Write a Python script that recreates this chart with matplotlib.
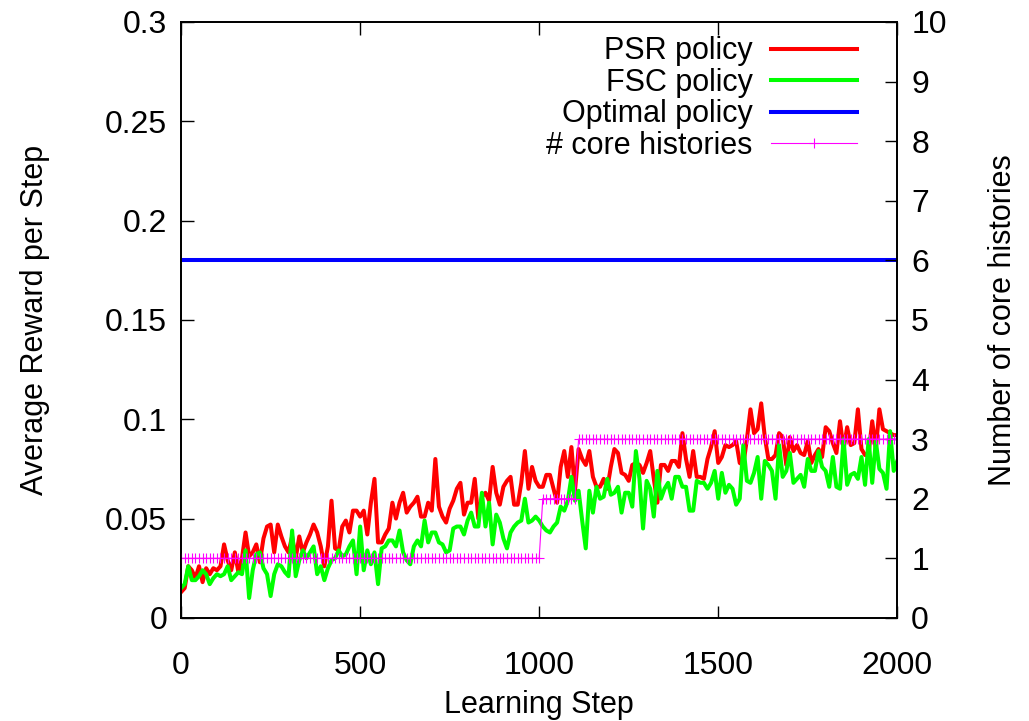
import numpy as np
import matplotlib
matplotlib.use("Agg")
import matplotlib.pyplot as plt

plt.rcParams['font.family'] = ['Liberation Sans', 'DejaVu Sans']

steps = list(range(0, 2001, 10))

psr_reward = [
    0.013, 0.015, 0.026, 0.024, 0.020, 0.026, 0.018, 0.025, 0.022, 0.025,
    0.024, 0.026, 0.037, 0.029, 0.024, 0.033, 0.023, 0.030, 0.043, 0.031,
    0.033, 0.037, 0.028, 0.040, 0.046, 0.047, 0.033, 0.047, 0.041, 0.036,
    0.033, 0.041, 0.030, 0.041, 0.033, 0.038, 0.042, 0.047, 0.043, 0.036,
    0.026, 0.036, 0.059, 0.035, 0.034, 0.046, 0.049, 0.043, 0.054, 0.054,
    0.051, 0.054, 0.042, 0.058, 0.070, 0.038, 0.038, 0.042, 0.045, 0.058,
    0.050, 0.058, 0.063, 0.053, 0.056, 0.058, 0.061, 0.051, 0.051, 0.058,
    0.054, 0.080, 0.056, 0.051, 0.048, 0.055, 0.059, 0.065, 0.068, 0.052,
    0.058, 0.058, 0.070, 0.050, 0.061, 0.063, 0.059, 0.076, 0.063, 0.057,
    0.066, 0.069, 0.071, 0.057, 0.057, 0.068, 0.084, 0.065, 0.076, 0.069,
    0.066, 0.066, 0.072, 0.072, 0.065, 0.058, 0.076, 0.084, 0.071, 0.086,
    0.064, 0.085, 0.080, 0.077, 0.084, 0.071, 0.066, 0.066, 0.070, 0.065,
    0.076, 0.085, 0.083, 0.073, 0.072, 0.069, 0.077, 0.078, 0.077, 0.073,
    0.078, 0.084, 0.070, 0.058, 0.077, 0.077, 0.074, 0.079, 0.079, 0.076,
    0.093, 0.080, 0.071, 0.084, 0.071, 0.071, 0.070, 0.080, 0.086, 0.094,
    0.078, 0.081, 0.087, 0.086, 0.087, 0.089, 0.078, 0.077, 0.090, 0.105,
    0.093, 0.095, 0.108, 0.091, 0.080, 0.080, 0.082, 0.093, 0.091, 0.077,
    0.091, 0.084, 0.087, 0.083, 0.082, 0.089, 0.078, 0.082, 0.085, 0.081,
    0.096, 0.094, 0.088, 0.083, 0.099, 0.085, 0.096, 0.087, 0.088, 0.105,
    0.085, 0.082, 0.083, 0.099, 0.085, 0.105, 0.095, 0.094, 0.093, 0.092, 0.092,
]

fsc_reward = [
    0.015, 0.017, 0.026, 0.019, 0.019, 0.021, 0.024, 0.022, 0.017, 0.020,
    0.022, 0.021, 0.022, 0.026, 0.019, 0.021, 0.023, 0.022, 0.034, 0.010,
    0.024, 0.032, 0.033, 0.025, 0.022, 0.011, 0.022, 0.027, 0.026, 0.023,
    0.021, 0.044, 0.021, 0.029, 0.034, 0.030, 0.033, 0.036, 0.022, 0.026,
    0.019, 0.025, 0.029, 0.030, 0.034, 0.031, 0.032, 0.036, 0.039, 0.022,
    0.046, 0.024, 0.034, 0.027, 0.033, 0.017, 0.035, 0.036, 0.039, 0.039,
    0.036, 0.044, 0.033, 0.029, 0.027, 0.036, 0.039, 0.036, 0.049, 0.038,
    0.043, 0.043, 0.038, 0.037, 0.033, 0.034, 0.045, 0.046, 0.046, 0.042,
    0.049, 0.053, 0.046, 0.046, 0.063, 0.046, 0.058, 0.037, 0.052, 0.048,
    0.040, 0.035, 0.043, 0.046, 0.048, 0.049, 0.060, 0.048, 0.049, 0.051,
    0.049, 0.046, 0.044, 0.043, 0.046, 0.048, 0.056, 0.054, 0.059, 0.071,
    0.059, 0.064, 0.049, 0.035, 0.064, 0.053, 0.066, 0.060, 0.061, 0.070,
    0.062, 0.063, 0.066, 0.053, 0.063, 0.063, 0.056, 0.084, 0.070, 0.045,
    0.069, 0.065, 0.051, 0.074, 0.060, 0.065, 0.068, 0.060, 0.071, 0.071,
    0.066, 0.066, 0.054, 0.054, 0.069, 0.068, 0.068, 0.065, 0.068, 0.074,
    0.060, 0.073, 0.063, 0.067, 0.065, 0.057, 0.060, 0.087, 0.069, 0.068,
    0.073, 0.081, 0.060, 0.079, 0.077, 0.074, 0.060, 0.087, 0.071, 0.074,
    0.083, 0.068, 0.070, 0.072, 0.066, 0.080, 0.074, 0.074, 0.084, 0.076,
    0.074, 0.066, 0.081, 0.066, 0.065, 0.090, 0.067, 0.072, 0.073, 0.070,
    0.081, 0.067, 0.090, 0.068, 0.089, 0.075, 0.073, 0.065, 0.094, 0.074, 0.079,
]

optimal_reward = 0.18

# number of core histories: 1 up to step 1000, 2 until 1100, then 3
core_histories = [1] * 101 + [2] * 10 + [3] * 90

fig = plt.figure(figsize=(10.29, 7.21), dpi=100)
ax = fig.add_axes([0.176, 0.143, 0.696, 0.8265])
ax2 = ax.twinx()

ax.plot(steps, psr_reward, color='#ff0000', lw=2.9, label='PSR policy')
ax.plot(steps, fsc_reward, color='#00ff00', lw=2.9, label='FSC policy')
ax.axhline(optimal_reward, color='#0000ff', lw=2.9, label='Optimal policy')
ax2.plot(steps, core_histories, color='#ff00ff', lw=0.8, marker='+',
         ms=7, mew=0.8, label='# core histories')

ax.set_xlim(0, 2000)
ax.set_ylim(0, 0.3)
ax2.set_ylim(0, 10)
ax.set_xticks([0, 500, 1000, 1500, 2000])
ax.set_yticks([0, 0.05, 0.1, 0.15, 0.2, 0.25, 0.3])
ax.set_yticklabels(['0', '0.05', '0.1', '0.15', '0.2', '0.25', '0.3'])
ax2.set_yticks(range(0, 11))

ax.tick_params(axis='x', direction='in', length=9, width=1, top=True,
               labelsize=23, pad=24)
ax.tick_params(axis='y', direction='in', length=9, width=1, right=False,
               labelsize=23, pad=10)
ax2.tick_params(axis='y', direction='in', length=9, width=1,
                labelsize=23, pad=10)

for a in (ax, ax2):
    for s in a.spines.values():
        s.set_linewidth(1.3)

ax.set_xlabel('Learning Step', fontsize=22, labelpad=6)
ax.set_ylabel('Average Reward per Step', fontsize=22, labelpad=40)
ax2.set_ylabel('Number of core histories', fontsize=22, labelpad=30)

h1, l1 = ax.get_legend_handles_labels()
h2, l2 = ax2.get_legend_handles_labels()
ax2.legend(h1 + h2, l1 + l2, loc='upper right', bbox_to_anchor=(0.973, 1.012),
           frameon=False, markerfirst=False, fontsize=22, handlelength=2.8,
           labelspacing=0.05, handletextpad=0.6, borderaxespad=0.3)

fig.savefig('out.png', dpi=100)
